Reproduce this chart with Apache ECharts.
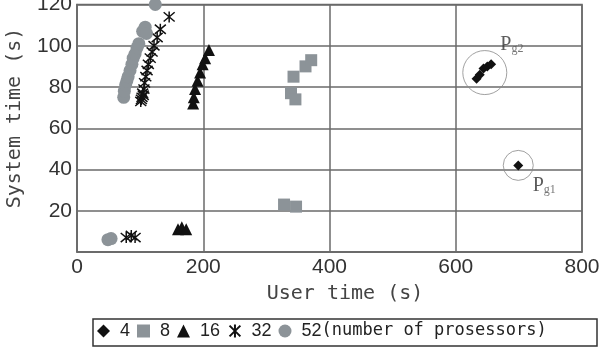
<!DOCTYPE html>
<html><head><meta charset="utf-8">
<script src="https://cdn.jsdelivr.net/npm/echarts@6/dist/echarts.min.js"></script>
<style>html,body{margin:0;padding:0;background:#fff}#c{width:600px;height:353px}</style>
</head><body><div id="c"></div>
<script>
// Tick labels
const xTicks = [0, 200, 400, 600, 800];
const yTicks = [0, 20, 40, 60, 80, 100, 120];
// Series names (number of processors)
const seriesNames = ['4', '8', '16', '32', '52'];
// Series values [user time, system time]
const p4 = [[633,84],[638,86],[644,89],[650,90],[656,91],[699,42]];
const p8 = [[339,77],[346,74],[343,85],[362,90],[371,93],[328,23],[347,22]];
const p16 = [[184,72],[185,75],[187,79],[191,83],[195,87],[199,91],[203,94],[209,98],[160,11],[166,12],[173,11]];
const p32 = [[101,73],[102,74],[103,75],[104,77],[105,76],[106,79],[107,82],[109,85],[111,88],[113,91],[116,94],[119,97],[122,100],[127,104],[132,108],[146,114],[78,7],[86,8],[92,7]];
const p52 = [[74,75],[75,78],[77,81],[79,83],[81,85],[84,88],[87,91],[89,94],[92,96],[95,99],[98,101],[104,107],[108,109],[110,106],[124,120],[49,6],[54,6.5]];
// Annotated groups
const pgCenters = [[646,87],[699,42]];
const pgSubs = ['g2','g1'];
const xTitle = 'User time (s)';
const yTitle = 'System time (s)';
const legendNote = '(number of prosessors)';

const chart = echarts.init(document.getElementById('c'), null, {renderer:'canvas'});
const GRAY = '#8c9398', BLACK = '#111', GRID = '#6a6a6a';
const numFont = "'Liberation Sans', sans-serif";
const monoFont = "'DejaVu Sans Mono', 'Liberation Mono', monospace";
const starPath = 'path://M0,0L10,10M10,0L0,10M5,-1L5,11';

function sc(name, data, symbol, size, color, extra) {
  return Object.assign({
    type: 'scatter', name, data, symbol, symbolSize: size,
    itemStyle: {color: color, opacity: 1}, z: 3
  }, extra || {});
}

const option = {
  animation: false,
  backgroundColor: '#fff',
  grid: {left: 77, right: 18, top: 4.5, bottom: 101, show: true, borderColor: GRID, borderWidth: 1.5,
    containLabel: false, outerBoundsMode: 'none'},
  xAxis: {
    type: 'value', min: xTicks[0], max: xTicks[xTicks.length-1], interval: xTicks[1]-xTicks[0],
    axisLine: {show: true, lineStyle: {color: GRID, width: 1.5}}, axisTick: {show: false},
    splitLine: {lineStyle: {color: GRID, width: 1.5}},
    axisLabel: {color: '#333', fontSize: 21, fontFamily: numFont, margin: 5}
  },
  yAxis: {
    type: 'value', min: yTicks[0], max: yTicks[yTicks.length-1], interval: yTicks[1]-yTicks[0],
    axisLine: {show: true, lineStyle: {color: GRID, width: 1.5}}, axisTick: {show: false},
    splitLine: {lineStyle: {color: GRID, width: 1.5}},
    axisLabel: {color: '#333', fontSize: 21, fontFamily: numFont, margin: 5, showMinLabel: false}
  },
  legend: {
    left: 97, top: 322, padding: 0, itemGap: 7, itemWidth: 13, itemHeight: 13,
    data: seriesNames,
    formatter: function (n) { return n === '52' ? ' 52{m|' + legendNote + '}' : ' ' + n; },
    textStyle: {color: '#222', fontSize: 18, fontFamily: "'Liberation Sans', sans-serif",
      rich: {m: {fontFamily: monoFont, fontSize: 17, color: '#222'}}}
  },
  graphic: [
    {type: 'rect', shape: {x: 93, y: 319, width: 504, height: 27}, style: {fill: 'none', stroke: '#333', lineWidth: 1.5}, z: -1},
    {type: 'text', x: 345, y: 294, style: {text: xTitle, font: "20px 'DejaVu Sans Mono', monospace", fill: '#444', align: 'center', verticalAlign: 'middle'}},
    {type: 'text', x: 15, y: 118, rotation: Math.PI/2, style: {text: yTitle, font: "20px 'DejaVu Sans Mono', monospace", fill: '#444', align: 'center', verticalAlign: 'middle'}}
  ],
  series: [
    sc(seriesNames[0], p4, 'diamond', 10, BLACK),
    sc(seriesNames[1], p8, 'rect', 12, GRAY),
    sc(seriesNames[2], p16, 'triangle', 12, BLACK),
    sc(seriesNames[3], p32, starPath, 11, 'none', {itemStyle: {color: 'none', borderColor: BLACK, borderWidth: 1.5, opacity: 1}}),
    sc(seriesNames[4], p52, 'circle', 13, GRAY),
    {
      type: 'scatter', name: 'pg', data: pgCenters, symbol: 'circle', z: 4,
      symbolSize: function (v, p) { return p.dataIndex === 0 ? 44 : 30; },
      itemStyle: {color: 'none', borderColor: '#8a8a8a', borderWidth: 1},
      silent: true,
      label: {
        show: true,
        formatter: function (p) { return '{p|P}{s|' + pgSubs[p.dataIndex] + '}'; },
        position: 'right',
        rich: {
          p: {fontFamily: "'Liberation Serif', serif", fontSize: 20, color: '#333'},
          s: {fontFamily: "'Liberation Serif', serif", fontSize: 12, color: '#555', padding: [8, 0, 0, 0]}
        }
      },
      labelLayout: function (params) {
        return params.dataIndex === 0 ? {dx: -14, dy: -28} : {dx: -8, dy: 20};
      }
    }
  ]
};
chart.setOption(option);
</script></body></html>
